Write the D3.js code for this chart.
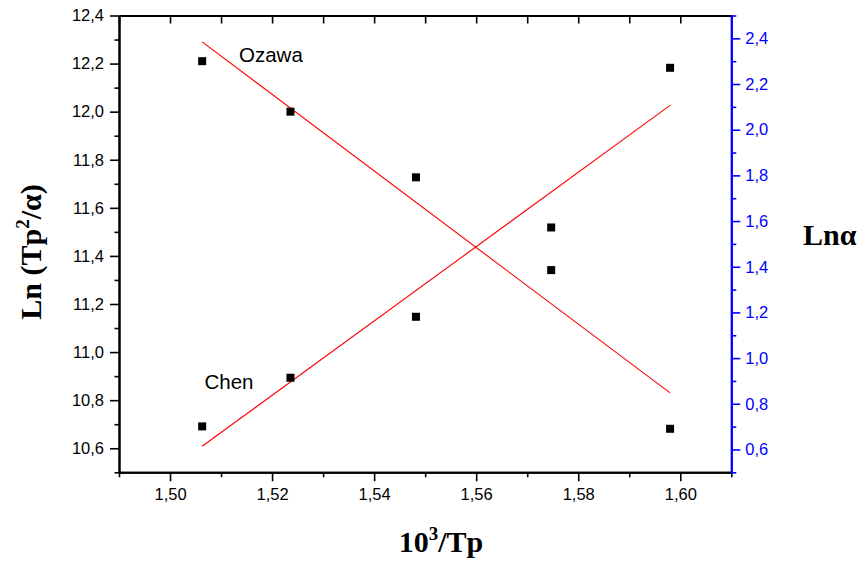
<!DOCTYPE html>
<html>
<head>
<meta charset="utf-8">
<script src="https://cdn.jsdelivr.net/npm/d3@7"></script>
<style>
  html, body { margin: 0; padding: 0; background: #fff; }
  svg { display: block; }
  .tick text { font-family: "Liberation Sans", Arial, sans-serif; font-size: 16.5px; }
</style>
</head>
<body>
<svg id="chart" width="862" height="568"></svg>
<script>
// Measured points: 10^3/Tp against Ln(Tp^2/α) (Ozawa) and Ln α (Chen)
const xVals = [1.5063, 1.5236, 1.5482, 1.5747, 1.5980];
const ozawa = [12.210, 12.000, 11.727, 11.341, 10.681];
const chen  = [0.701, 0.914, 1.181, 1.572, 2.271];

// Axis ticks
const xMajor  = [1.50, 1.52, 1.54, 1.56, 1.58, 1.60];
const xMinor  = [1.49, 1.51, 1.53, 1.55, 1.57, 1.59, 1.61];
const yLMajor = [10.6, 10.8, 11.0, 11.2, 11.4, 11.6, 11.8, 12.0, 12.2, 12.4];
const yLMinor = [10.5, 10.7, 10.9, 11.1, 11.3, 11.5, 11.7, 11.9, 12.1, 12.3];
const yRMajor = [0.6, 0.8, 1.0, 1.2, 1.4, 1.6, 1.8, 2.0, 2.2, 2.4];
const yRMinor = [0.5, 0.7, 0.9, 1.1, 1.3, 1.5, 1.7, 1.9, 2.1, 2.3, 2.5];

const svg = d3.select("#chart");
const L = 119, R = 731.3, T = 15.5, B = 472.3;
const blue = "#0000ff";

const x  = d3.scaleLinear().domain([1.49, 1.61]).range([L, R]);
const yL = d3.scaleLinear().domain([10.5, 12.4]).range([B, T]);
const yR = d3.scaleLinear().domain([0.5, 2.5]).range([B, T]);

const loc = d3.formatLocale({ decimal: ",", thousands: ".", grouping: [3], currency: ["", ""] });
const f1 = loc.format(".1f"), f2 = loc.format(".2f");

function style(g, color) {
  g.selectAll("path.domain").attr("stroke", color).attr("stroke-width", 2);
  g.selectAll(".tick line").attr("stroke", color).attr("stroke-width", 1.6);
  g.selectAll(".tick text").attr("fill", color);
}

// Bottom axis
svg.append("g").attr("transform", `translate(0,${B})`)
  .call(d3.axisBottom(x).tickValues(xMinor).tickSize(5).tickSizeOuter(0).tickFormat(""))
  .call(g => style(g, "#000"));
svg.append("g").attr("transform", `translate(0,${B})`)
  .call(d3.axisBottom(x).tickValues(xMajor).tickSize(9).tickPadding(7).tickSizeOuter(0).tickFormat(f2))
  .call(g => style(g, "#000"));

// Top axis, ticks pointing inward
svg.append("g").attr("transform", `translate(0,${T})`)
  .call(d3.axisBottom(x).tickValues(xMajor.concat(xMinor)).tickSize(8).tickSizeOuter(0).tickFormat(""))
  .call(g => style(g, "#000"));

// Left axis
svg.append("g").attr("transform", `translate(${L},0)`)
  .call(d3.axisLeft(yL).tickValues(yLMinor).tickSize(4.5).tickSizeOuter(0).tickFormat(""))
  .call(g => style(g, "#000"));
svg.append("g").attr("transform", `translate(${L},0)`)
  .call(d3.axisLeft(yL).tickValues(yLMajor).tickSize(9).tickPadding(6).tickSizeOuter(0).tickFormat(f1))
  .call(g => style(g, "#000"));

// Right axis (blue)
svg.append("g").attr("transform", `translate(${R},0)`)
  .call(d3.axisRight(yR).tickValues(yRMinor).tickSize(5).tickSizeOuter(0).tickFormat(""))
  .call(g => style(g, blue));
svg.append("g").attr("transform", `translate(${R},0)`)
  .call(d3.axisRight(yR).tickValues(yRMajor).tickSize(9).tickPadding(5).tickSizeOuter(0).tickFormat(f1))
  .call(g => style(g, blue));

// Least-squares fit
function fit(xs, ys) {
  const mx = d3.mean(xs), my = d3.mean(ys);
  let sxy = 0, sxx = 0;
  xs.forEach((xi, i) => { sxy += (xi - mx) * (ys[i] - my); sxx += (xi - mx) ** 2; });
  const b = sxy / sxx, a = my - b * mx;
  return v => a + b * v;
}
const x0 = d3.min(xVals), x1 = d3.max(xVals);
const fo = fit(xVals, ozawa), fc = fit(xVals, chen);

svg.append("line")
  .attr("x1", x(x0)).attr("y1", yL(fo(x0)))
  .attr("x2", x(x1)).attr("y2", yL(fo(x1)))
  .attr("stroke", "#ff0000").attr("stroke-width", 1.1);
svg.append("line")
  .attr("x1", x(x0)).attr("y1", yR(fc(x0)))
  .attr("x2", x(x1)).attr("y2", yR(fc(x1)))
  .attr("stroke", "#ff0000").attr("stroke-width", 1.1);

// Square markers
const sq = 8;
svg.append("g").selectAll("rect").data(xVals).join("rect")
  .attr("x", d => x(d) - sq / 2)
  .attr("y", (d, i) => yL(ozawa[i]) - sq / 2)
  .attr("width", sq).attr("height", sq).attr("fill", "#000");
svg.append("g").selectAll("rect").data(xVals).join("rect")
  .attr("x", d => x(d) - sq / 2)
  .attr("y", (d, i) => yR(chen[i]) - sq / 2)
  .attr("width", sq).attr("height", sq).attr("fill", "#000");

// Series labels
const sans = '"Liberation Sans", Arial, sans-serif';
svg.append("text").attr("x", 239).attr("y", 61.5)
  .attr("font-family", sans).attr("font-size", 20.5).text("Ozawa");
svg.append("text").attr("x", 204.5).attr("y", 389)
  .attr("font-family", sans).attr("font-size", 20.5).text("Chen");

// Axis titles
const serif = '"Liberation Serif", "Times New Roman", serif';
const xt = svg.append("text").attr("x", 441).attr("y", 551.5)
  .attr("text-anchor", "middle").attr("font-family", serif)
  .attr("font-weight", "bold").attr("font-size", 30);
xt.append("tspan").text("10");
xt.append("tspan").attr("font-size", 19).attr("dy", -12).text("3");
xt.append("tspan").attr("dy", 12).text("/Tp");

const yt = svg.append("text")
  .attr("transform", "translate(41,252) rotate(-90)")
  .attr("text-anchor", "middle").attr("font-family", serif)
  .attr("font-weight", "bold").attr("font-size", 30);
yt.append("tspan").text("Ln (Tp");
yt.append("tspan").attr("font-size", 19).attr("dy", -12).text("2");
yt.append("tspan").attr("dy", 12).text("/α)");

svg.append("text").attr("x", 803).attr("y", 245)
  .attr("font-family", serif).attr("font-weight", "bold").attr("font-size", 30)
  .text("Lnα");
</script>
</body>
</html>
